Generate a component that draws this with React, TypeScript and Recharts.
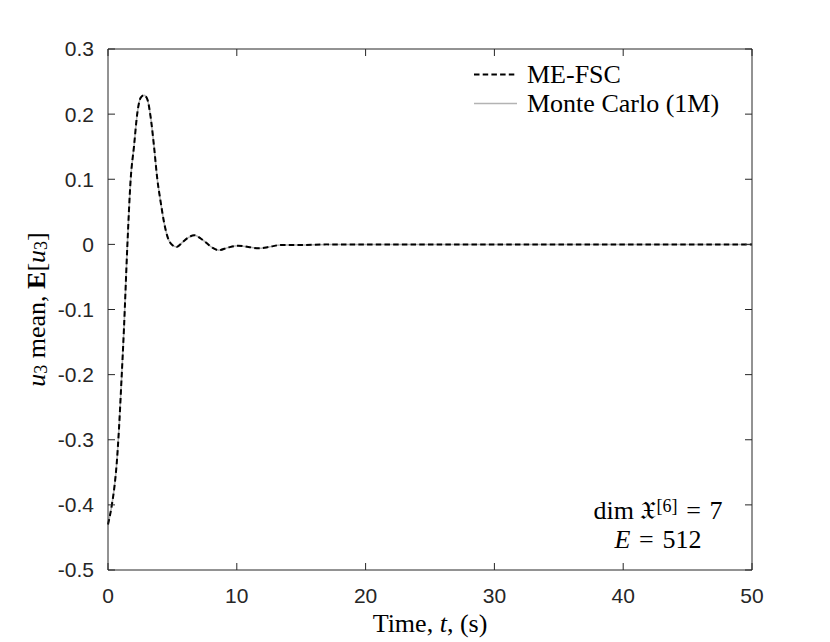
import React from 'react';
import { LineChart, Line, XAxis, YAxis, Legend, Label } from 'recharts';

const time = [0, 0.3, 0.5, 0.67, 0.85, 1.03, 1.24, 1.5, 1.76, 2.02, 2.28, 2.53, 2.8, 3.05, 3.3, 3.57, 3.83, 4.09, 4.35, 4.6, 4.99, 5.33, 5.77, 6.2, 6.7, 7.2, 7.6, 8.1, 8.6, 9.3, 10.1, 10.9, 11.7, 12.5, 13.4, 15, 17, 20, 25, 30, 35, 40, 45, 50];
const meFsc = [-0.43, -0.4, -0.372, -0.338, -0.284, -0.215, -0.129, -0.003, 0.1, 0.151, 0.202, 0.225, 0.229, 0.223, 0.197, 0.151, 0.1, 0.065, 0.034, 0.013, -0.001, -0.004, 0.003, 0.01, 0.014, 0.009, 0.003, -0.005, -0.009, -0.005, -0.002, -0.004, -0.006, -0.004, -0.001, -0.001, 0, 0, 0, 0, 0, 0, 0, 0];
const monteCarlo = [-0.43, -0.4, -0.372, -0.338, -0.284, -0.215, -0.129, -0.003, 0.1, 0.151, 0.202, 0.225, 0.229, 0.223, 0.197, 0.151, 0.1, 0.065, 0.034, 0.013, -0.001, -0.004, 0.003, 0.01, 0.014, 0.009, 0.003, -0.005, -0.009, -0.005, -0.002, -0.004, -0.006, -0.004, -0.001, -0.001, 0, 0, 0, 0, 0, 0, 0, 0];
const xTicks = [0, 10, 20, 30, 40, 50];
const yTicks = [-0.5, -0.4, -0.3, -0.2, -0.1, 0, 0.1, 0.2, 0.3];
const seriesNames = ['ME-FSC', 'Monte Carlo (1M)'];

const data = time.map((t, i) => ({ t, me: meFsc[i], mc: monteCarlo[i] }));

const AX = '#262626';
const SERIF = '"Liberation Serif", "DejaVu Serif", serif';
const SANS = '"Liberation Sans", Arial, Helvetica, sans-serif';
const tickStyle = { fontSize: 21, fill: AX, fontFamily: SANS };

const fmt = (v: number) => (v === 0 ? '0' : v.toFixed(1));
const blank = () => '';

const LegendContent = () => (
  <div style={{ fontFamily: SERIF, fontSize: 26, color: '#000', lineHeight: '29px' }}>
    <div style={{ display: 'flex', alignItems: 'center' }}>
      <svg width={55} height={29}><line x1={2} y1={14.5} x2={45} y2={14.5} stroke="#000" strokeWidth={2} strokeDasharray="5.5 3.2" /></svg>
      <span>{seriesNames[0]}</span>
    </div>
    <div style={{ display: 'flex', alignItems: 'center' }}>
      <svg width={55} height={29}><line x1={2} y1={14.5} x2={45} y2={14.5} stroke="#b3b3b3" strokeWidth={1.5} /></svg>
      <span>{seriesNames[1]}</span>
    </div>
  </div>
);

const YLabel = (props: any) => {
  const vb = props.viewBox || {};
  const cy = vb.y + vb.height / 2;
  const cx = 36;
  return (
    <text x={cx} y={cy} transform={`rotate(-90 ${cx} ${cy})`} textAnchor="middle" dominantBaseline="central" fontFamily={SERIF} fontSize={26} fill="#000">
      <tspan fontStyle="italic">u</tspan>
      <tspan fontSize={18} dy={5}>3</tspan>
      <tspan dy={-5}> mean, </tspan>
      <tspan fontWeight="bold">E</tspan>
      <tspan>[</tspan>
      <tspan fontStyle="italic">u</tspan>
      <tspan fontSize={18} dy={5}>3</tspan>
      <tspan dy={-5}>]</tspan>
    </text>
  );
};

const XLabel = (props: any) => {
  const vb = props.viewBox || {};
  const cx = vb.x + vb.width / 2;
  return (
    <text x={cx} y={632} textAnchor="middle" fontFamily={SERIF} fontSize={26} fill="#000">
      <tspan>Time, </tspan>
      <tspan fontStyle="italic">t</tspan>
      <tspan>, (s)</tspan>
    </text>
  );
};

export default function App() {
  return (
    <div style={{ position: 'absolute', left: 0, top: 0, width: 830, height: 642, background: '#fff' }}>
      <LineChart width={830} height={642} data={data} margin={{ top: 48, right: 77, bottom: 42, left: 48 }}>
        <XAxis dataKey="t" type="number" domain={[0, 50]} ticks={xTicks} interval={0} height={30}
          tickSize={-7} tickMargin={25} tick={tickStyle} stroke={AX} axisLine={{ stroke: AX }} tickLine={{ stroke: AX }}>
          <Label content={<XLabel />} />
        </XAxis>
        <XAxis xAxisId="top" orientation="top" dataKey="t" type="number" domain={[0, 50]} ticks={xTicks} interval={0} height={1}
          tickSize={-7} tickFormatter={blank} stroke={AX} />
        <YAxis type="number" domain={[-0.5, 0.3]} ticks={yTicks} interval={0} width={60} allowDataOverflow
          tickSize={-7} tickMargin={21} tick={tickStyle} tickFormatter={fmt} stroke={AX}>
          <Label content={<YLabel />} />
        </YAxis>
        <YAxis yAxisId="right" orientation="right" type="number" domain={[-0.5, 0.3]} ticks={yTicks} interval={0} width={1} allowDataOverflow
          tickSize={-7} tickFormatter={blank} stroke={AX} />
        <Line dataKey="mc" xAxisId="top" yAxisId="right" type="monotone" stroke="#b3b3b3" strokeWidth={1.5} dot={false} isAnimationActive={false} name={seriesNames[1]} />
        <Line dataKey="me" type="monotone" stroke="#000" strokeWidth={2} strokeDasharray="5.5 3.2" dot={false} isAnimationActive={false} name={seriesNames[0]} />
        <Legend layout="vertical" align="center" verticalAlign="middle" content={<LegendContent />}
          wrapperStyle={{ left: 472, top: 60, width: 280, height: 60 }} />
      </LineChart>
      <div style={{ position: 'absolute', left: 558, top: 496, width: 200, textAlign: 'center', fontFamily: SERIF, fontSize: 26, lineHeight: '29px', color: '#000', pointerEvents: 'none' }}>
        <div>dim&nbsp;𝔛<sup style={{ fontSize: 18, verticalAlign: 'top', position: 'relative', top: -4 }}>[6]</sup>{'\u2004=\u2004'}7</div>
        <div><i>E</i>{'\u2004=\u2004'}512</div>
      </div>
    </div>
  );
}
